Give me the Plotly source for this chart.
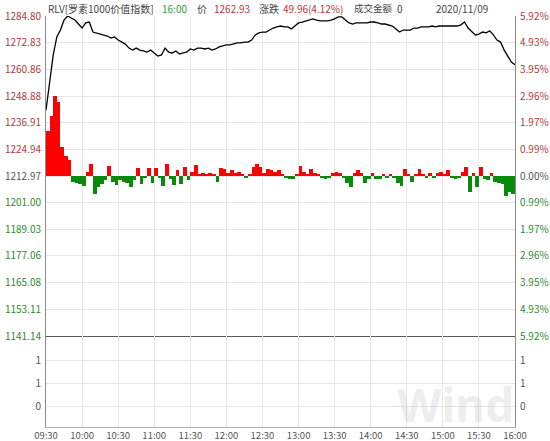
import plotly.graph_objects as go
import pandas as pd

# ---------------- data ----------------
prev_close = 1212.97
last_price = 1262.93
change = 49.96
change_pct = "4.12%"
trade_date = "2020/11/09"
title_name = "RLV[罗素1000价值指数]"

# 3-minute samples of the index, 09:30 .. 16:00
price = [
    1242.5, 1253.8, 1267.3, 1275.4, 1278.5, 1283.0, 1284.8, 1283.9, 1283.0, 1281.2,
    1279.4, 1281.7, 1282.1, 1277.6, 1277.2, 1276.7, 1276.3, 1275.8, 1274.9, 1275.4,
    1274.0, 1273.1, 1272.2, 1270.4, 1269.5, 1270.4, 1269.5, 1269.1, 1268.6, 1269.5,
    1268.2, 1266.8, 1267.3, 1270.4, 1268.6, 1268.2, 1269.1, 1267.7, 1268.2, 1268.6,
    1270.0, 1269.5, 1270.4, 1270.4, 1270.0, 1270.4, 1269.5, 1270.0, 1270.9, 1271.3,
    1271.8, 1271.8, 1272.2, 1272.7, 1272.7, 1273.1, 1273.1, 1274.0, 1276.3, 1277.2,
    1277.6, 1277.6, 1278.5, 1279.4, 1279.9, 1280.3, 1279.9, 1279.9, 1279.0, 1280.3,
    1281.7, 1282.1, 1282.6, 1283.0, 1283.5, 1283.0, 1282.6, 1282.6, 1282.6, 1283.0,
    1283.5, 1284.4, 1284.4, 1283.0, 1281.7, 1281.2, 1281.7, 1281.7, 1281.7, 1281.7,
    1282.1, 1282.1, 1281.7, 1281.2, 1281.2, 1280.8, 1280.3, 1279.0, 1277.6, 1278.5,
    1278.5, 1278.5, 1279.4, 1279.4, 1279.9, 1279.9, 1279.9, 1280.3, 1279.9, 1280.3,
    1280.3, 1280.3, 1280.3, 1280.3, 1280.3, 1280.8, 1282.1, 1279.4, 1277.6, 1276.3,
    1276.7, 1277.6, 1277.2, 1278.1, 1276.3, 1274.0, 1273.1, 1269.5, 1266.8, 1264.1,
    1262.93,
]

# red / green momentum bars (offset from previous close), 3-minute buckets
momentum = [
    20, 27, 36, 33, 13, 9, 7, -2.5, -3, -3.5,
    -4.5, 2, 5.5, -8, -5, -3.5, -2, 4.5, -2.5, -4,
    -2, -2.5, -3, -5, -2, 3.5, -3.5, -1, 3.5, -3,
    3.5, -1, -4.5, 5.5, -1.5, -4, 2.5, -3.5, 4, -2,
    2, 5, 1, 1.5, 0.8, 1.5, 1, -2.5, 3.5, 3,
    1.5, 2.5, 1.5, 2, 1, -0.8, 1, 4, 5.4, 4,
    1.5, 3, 2.5, 2, 2.5, 1, -0.8, -1.5, -1.2, 1,
    4.5, 2, 1, 3, 1.5, 0.8, -1, -1.5, -0.8, 1.5,
    2, 1.5, -1, -3, -5, 1.5, 2.5, 1.5, -3, -1.5,
    1.5, -1.5, -1.5, 1, -0.8, 0.8, -1, -3, -4.5, 3,
    1, -2.5, 1, 3, 1, -1, 1.5, -1, 1.5, 2,
    0.8, 2.5, -0.8, -1.5, -0.8, 2, 4, -7, 1.5, -5,
    4, -1.5, -2, 1.5, -2.5, -3, -3.5, -9, -7, -8,
]

price_ticks = [1284.80, 1272.83, 1260.86, 1248.88, 1236.91, 1224.94, 1212.97,
               1201.00, 1189.03, 1177.06, 1165.08, 1153.11, 1141.14]
pct_labels = ["5.92%", "4.93%", "3.95%", "2.96%", "1.97%", "0.99%", "0.00%",
              "0.99%", "1.97%", "2.96%", "3.95%", "4.93%", "5.92%"]
vol_ticks = [0, 1, 2]
vol_labels = ["0", "1", "1"]
time_labels = ["09:30", "10:00", "10:30", "11:00", "11:30", "12:00", "12:30",
               "13:00", "13:30", "14:00", "14:30", "15:00", "15:30", "16:00"]

# ---------------- styling ----------------
RED_TXT = "#b03a3a"
GRN_TXT = "#2f8a2f"
GRY_TXT = "#555555"
GRID = "#e6e6e6"
AXIS = "#8c8c8c"
FONT = "Noto Sans CJK SC, Noto Sans, sans-serif"

W, H = 550, 441
L, R, T, B = 46, 35, 16, 14
PX_W = W - L - R
PX_H = H - T - B
split_px = 336
price_dom0 = (H - B - split_px) / PX_H


def px_x(px):
    return (px - L) / PX_W


def px_y(py):
    return (H - B - py) / PX_H


day = "2020-11-09 "
t_price = pd.date_range(day + "09:30", periods=len(price), freq="3min")
t_bars = pd.date_range(day + "09:30", periods=len(momentum), freq="3min")
t_ticks = [pd.Timestamp(day + s) for s in time_labels]
x_range = [t_ticks[0], t_ticks[-1]]


def colored(lbl, val, ref):
    if abs(val - ref) < 1e-6:
        c = GRY_TXT
    elif val > ref:
        c = RED_TXT
    else:
        c = GRN_TXT
    return f'<span style="color:{c}">{lbl}</span>'


left_text = [colored(f"{v:.2f}", v, prev_close) for v in price_ticks]
right_text = [colored(p, v, prev_close) for p, v in zip(pct_labels, price_ticks)]

fig = go.Figure()

bar_colors = ["#ff0000" if v >= 0 else "#0a8a0a" for v in momentum]
fig.add_trace(go.Bar(
    x=t_bars, y=momentum, base=prev_close, marker_color=bar_colors,
    marker_line_width=0, width=180000, offset=0,
    xaxis="x", yaxis="y", showlegend=False, hoverinfo="skip",
))
fig.add_trace(go.Scatter(
    x=t_price, y=price, mode="lines", line=dict(color="#000000", width=1.3),
    xaxis="x", yaxis="y", showlegend=False,
))
# helper traces so overlay axes render
fig.add_trace(go.Scatter(x=[t_ticks[0]], y=[prev_close], mode="markers",
                         marker=dict(opacity=0), xaxis="x", yaxis="y3",
                         showlegend=False, hoverinfo="skip"))
fig.add_trace(go.Scatter(x=[t_ticks[0]], y=[0], mode="markers",
                         marker=dict(opacity=0), xaxis="x2", yaxis="y2",
                         showlegend=False, hoverinfo="skip"))
fig.add_trace(go.Scatter(x=[t_ticks[0]], y=[0], mode="markers",
                         marker=dict(opacity=0), xaxis="x2", yaxis="y4",
                         showlegend=False, hoverinfo="skip"))

p_range = [price_ticks[-1], price_ticks[0]]
v_range = [-(427 - 406) / 23.0, (406 - 336) / 23.0]

common_y = dict(automargin=False, zeroline=False, ticks="",
                ticklabelstandoff=2, tickfont=dict(size=10, color=GRY_TXT))

fig.update_layout(
    width=W, height=H,
    margin=dict(l=L, r=R, t=T, b=B, pad=0, autoexpand=False),
    paper_bgcolor="white", plot_bgcolor="white",
    font=dict(family=FONT, size=10, color=GRY_TXT),
    bargap=0,
    xaxis=dict(domain=[0, 1], anchor="y", type="date", range=x_range,
               tickvals=t_ticks, showticklabels=False, showgrid=True,
               gridcolor=GRID, gridwidth=1, showline=True, linecolor="#5a5a5a",
               linewidth=1, zeroline=False, ticks="", automargin=False),
    xaxis2=dict(domain=[0, 1], anchor="y2", type="date", range=x_range,
                matches="x", tickvals=t_ticks, ticktext=time_labels,
                showgrid=True, gridcolor=GRID, gridwidth=1, showline=True,
                linecolor="#b0b0b0", linewidth=1, ticks="", automargin=False,
                ticklabelstandoff=0,
                tickfont=dict(size=9.5, color=GRY_TXT)),
    yaxis=dict(domain=[price_dom0, 1], anchor="x", range=p_range,
               tickvals=price_ticks, ticktext=left_text, showgrid=True,
               gridcolor=GRID, gridwidth=1, showline=True,
               linecolor=AXIS, linewidth=1, side="left", **common_y),
    yaxis3=dict(overlaying="y", anchor="x", side="right", range=p_range,
                tickvals=price_ticks, ticktext=right_text, showgrid=False,
                showline=True, linecolor=AXIS, linewidth=1, **common_y),
    yaxis2=dict(domain=[0, price_dom0], anchor="x2", range=v_range,
                tickvals=vol_ticks, ticktext=vol_labels, showgrid=True,
                gridcolor=GRID, gridwidth=1, showline=True,
                linecolor=AXIS, linewidth=1, **common_y),
    yaxis4=dict(overlaying="y2", anchor="x2", side="right", range=v_range,
                tickvals=vol_ticks, ticktext=vol_labels, showgrid=False,
                showline=True, linecolor=AXIS, linewidth=1, **common_y),
)

# watermark
fig.add_annotation(text="<b>Wind</b>", xref="paper", yref="paper",
                   x=px_x(455), y=px_y(404), showarrow=False,
                   font=dict(family="Noto Sans, sans-serif", size=46,
                             color="rgba(190,190,190,0.26)"),
                   xanchor="center", yanchor="middle")

# header
hy = px_y(8)
header = [
    (title_name, 47, "#444444", 10),
    ("16:00", 161, "#3a9a3a", 10),
    ("价", 196, "#444444", 10),
    (f"{last_price:.2f}", 213, RED_TXT, 10),
    ("涨跌", 258, "#444444", 10),
    (f"{change:.2f}({change_pct})", 282, RED_TXT, 10),
    ("成交金额", 353, "#444444", 9.5),
    ("0", 396, "#444444", 10),
]
for txt, xpx, col, fs in header:
    fig.add_annotation(text=txt, xref="paper", yref="paper", x=px_x(xpx), y=hy,
                       showarrow=False, xanchor="left", yanchor="middle",
                       borderpad=0, font=dict(size=fs, color=col))
fig.add_annotation(text=trade_date, xref="paper", yref="paper", x=px_x(489),
                   y=hy, showarrow=False, xanchor="right", yanchor="middle",
                   borderpad=0, font=dict(size=10, color="#444444"))

fig.write_html("out.html",
               config={"displayModeBar": False},
               post_script="document.body.style.margin='0';"
                           "document.body.style.padding='0';")
